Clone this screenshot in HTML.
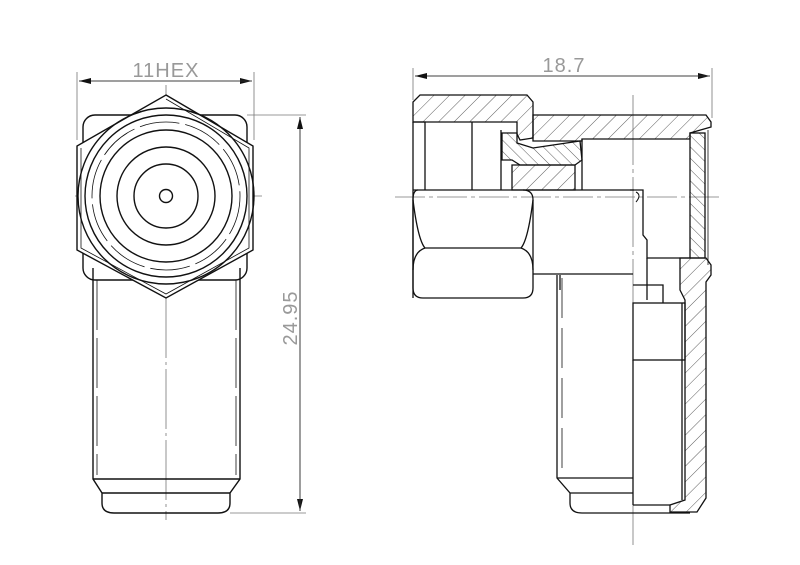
<!DOCTYPE html>
<html><head><meta charset="utf-8"><style>
html,body{margin:0;padding:0;background:#fff;}
svg{display:block;}
text{font-family:"Liberation Sans",sans-serif;fill:#999;}
</style></head><body>
<svg width="800" height="565" viewBox="0 0 800 565" xmlns="http://www.w3.org/2000/svg">
<defs>
<pattern id="h" patternUnits="userSpaceOnUse" width="11" height="11" patternTransform="rotate(45)">
<line x1="0" y1="0" x2="0" y2="11" stroke="#333" stroke-width="0.8"/>
</pattern>
<pattern id="h2" patternUnits="userSpaceOnUse" width="8" height="8" patternTransform="rotate(-45)">
<line x1="0" y1="0" x2="0" y2="8" stroke="#333" stroke-width="0.8"/>
</pattern>
<marker id="a" markerWidth="12" markerHeight="6" refX="12" refY="3" orient="auto" markerUnits="userSpaceOnUse">
<path d="M0,0 L12,3 L0,6 z" fill="#111"/>
</marker>
</defs>

<!-- LEFT VIEW -->
<g stroke="#777" stroke-width="0.8" fill="none">
<line x1="77" y1="72" x2="77" y2="140"/>
<line x1="254" y1="72" x2="254" y2="140"/>
<line x1="247" y1="115" x2="306" y2="115"/>
<line x1="230" y1="513" x2="306" y2="513"/>
<line x1="75" y1="196" x2="262" y2="196"/>
<line x1="166" y1="85" x2="166" y2="520" stroke-dasharray="60,4,3,4"/>
</g>
<line x1="79" y1="81" x2="252" y2="81" stroke="#333" stroke-width="0.8" marker-end="url(#a)"/>
<line x1="252" y1="81" x2="79" y2="81" stroke="#333" stroke-width="0.8" marker-end="url(#a)"/>
<line x1="300" y1="117" x2="300" y2="511" stroke="#333" stroke-width="0.8" marker-end="url(#a)"/>
<line x1="300" y1="511" x2="300" y2="117" stroke="#333" stroke-width="0.8" marker-end="url(#a)"/>
<text x="166" y="77" font-size="20" text-anchor="middle" letter-spacing="1">11HEX</text>
<text x="0" y="0" font-size="20" text-anchor="middle" letter-spacing="1" transform="translate(297,318) rotate(-90)">24.95</text>

<g stroke="#111" stroke-width="1.4" fill="none">
<rect x="83" y="115" width="164" height="165" rx="12"/>
<polygon points="166,95 253,146 253,250 166,298 77,250 77,146" fill="#fff"/>
<polyline points="166,99 249,148 249,248 166,294 81,248 81,148" stroke-width="0.8"/>
<circle cx="166" cy="196" r="88"/>
<circle cx="166" cy="196" r="81"/>
<circle cx="166" cy="196" r="74" stroke-width="0.8" stroke-dasharray="40,6"/>
<circle cx="166" cy="196" r="66"/>
<circle cx="166" cy="196" r="49"/>
<circle cx="166" cy="196" r="32"/>
<circle cx="166" cy="196" r="6.5"/>
<path d="M93,268 L93,479 L102,493 L102,503 Q102,513 114,513 L218,513 Q230,513 230,503 L230,493 L240,479 L240,268"/>
<line x1="93" y1="479" x2="240" y2="479"/>
<line x1="102" y1="493" x2="230" y2="493"/>
<line x1="97" y1="280" x2="97" y2="475" stroke-width="0.8" stroke-dasharray="50,8"/>
<line x1="236" y1="280" x2="236" y2="475" stroke-width="0.8" stroke-dasharray="50,8"/>
</g>

<!-- RIGHT VIEW -->
<g stroke="#777" stroke-width="0.8" fill="none">
<line x1="413" y1="68" x2="413" y2="100"/>
<line x1="712" y1="68" x2="712" y2="118"/>
<line x1="395" y1="197" x2="722" y2="197" stroke-dasharray="30,4,4,4"/>
<line x1="633" y1="95" x2="633" y2="545" stroke-dasharray="70,4,4,4"/>
</g>
<line x1="415" y1="76" x2="710" y2="76" stroke="#333" stroke-width="0.8" marker-end="url(#a)"/>
<line x1="710" y1="76" x2="415" y2="76" stroke="#333" stroke-width="0.8" marker-end="url(#a)"/>
<text x="564" y="72" font-size="20" text-anchor="middle" letter-spacing="1">18.7</text>

<g stroke="#111" stroke-width="1.3">
<path d="M420,95 L527,95 L533,102 L533,138 L520,140 L517,134 L517,122 L413,122 L413,102 Z" fill="url(#h)"/>
<path d="M533,115 L706,115 L711,122 L711,127 L690,133 L690,139 L582,139 L582,141 L533,141 Z" fill="url(#h)"/>
<path d="M502,133 L517,133 L517,143 L533,148 L580,141 L582,160 L575,165 L520,165 L512,160 L502,160 Z" fill="url(#h2)"/>
<path d="M512,165 L575,165 L575,190 L512,190 Z" fill="url(#h)"/>
<rect x="690" y="133" width="15" height="125" fill="url(#h2)"/>
<path d="M680,258 L706,258 L711,265 L711,275 L706,282 L706,498 L697,512 L670,512 L670,505 L685,500 L685,300 L680,290 Z" fill="url(#h)"/>
</g>
<g stroke="#111" stroke-width="1.3" fill="none">
<path d="M413,122 L413,298 M413,122 L425,122 L425,190"/>
<line x1="472" y1="122" x2="472" y2="190"/>
<line x1="501" y1="130" x2="501" y2="190"/>
<line x1="582" y1="139" x2="582" y2="190"/>
<line x1="708" y1="130" x2="708" y2="265" stroke-width="0.8"/>
<path d="M413,190 L634,190"/>
<path d="M630,190 L643,190 L643,235 L647,240 L647,258 L690,258"/>
<path d="M636,192 Q642,195 636,202" stroke-width="1"/>
<path d="M647,258 L647,300"/>
<path d="M418,190 Q413,190 413,200 L413,288 Q413,298 423,298 L523,298 Q533,298 533,288 L533,200 Q533,190 523,190"/>
<path d="M413,200 Q418,240 425,248 L521,248 Q528,240 533,200"/>
<path d="M425,248 Q413,252 413,270 M521,248 Q533,252 533,270"/>
<line x1="533" y1="274" x2="633" y2="274"/>
<path d="M557,275 L557,478 L570,493 L570,503 Q570,513 582,513 L690,513"/>
<line x1="557" y1="478" x2="633" y2="478"/>
<line x1="570" y1="493" x2="633" y2="493"/>
<line x1="562" y1="278" x2="562" y2="475" stroke-width="0.8" stroke-dasharray="40,10"/>
<line x1="560" y1="275" x2="560" y2="290"/>
<path d="M633,285 L663,285 L663,303"/>
<rect x="633" y="303" width="52" height="57"/>
<line x1="682" y1="303" x2="682" y2="500"/>
<line x1="633" y1="505" x2="670" y2="505"/>
<line x1="633" y1="360" x2="633" y2="505"/>
</g>
</svg>
</body></html>
